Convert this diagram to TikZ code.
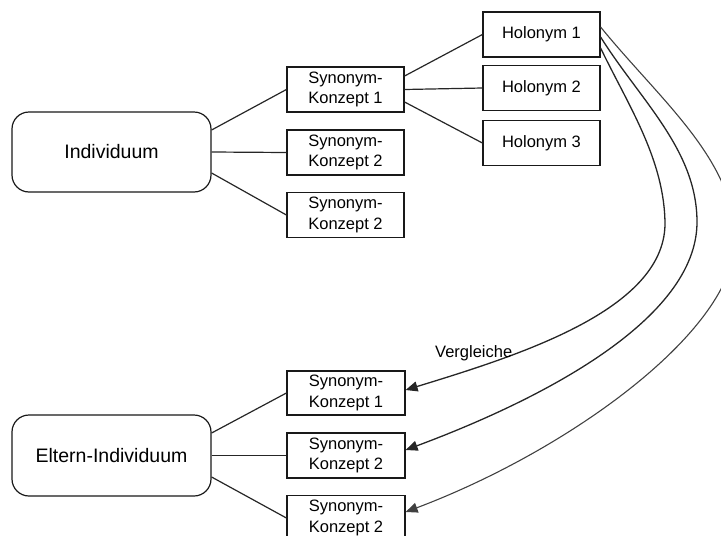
\documentclass[tikz,border=0pt]{standalone}
\usepackage{fontspec}
\setmainfont{Liberation Sans}
\usetikzlibrary{arrows.meta}
\begin{document}
\begin{tikzpicture}[x=1pt,y=-1pt,
  conceptbox/.style={draw=black!90, line width=1.2pt, fill=white,
    minimum width=117pt, minimum height=45pt, inner sep=0pt, align=center,
    font=\fontsize{16.5}{20.5}\selectfont},
  rootbox/.style={draw=black!90, line width=1.2pt, fill=white, rounded corners=17pt,
    minimum width=199pt, minimum height=80pt, inner sep=0pt,
    font=\fontsize{19.5}{23}\selectfont},
  link/.style={draw=black!85, line width=1.2pt},
  compare/.style={draw=black!85, line width=1.3pt, -{Triangle[length=12pt,width=10pt]}},
  compareouter/.style={draw=black!75, line width=1.1pt, -{Triangle[length=12pt,width=10pt]}}
]
\useasboundingbox (0,0) rectangle (721,536);

% upper tree
\node[rootbox] (ind) at (111.5,152) {Individuum};
\node[conceptbox] (s1) at (345.5,89.5) {Synonym-\\Konzept 1};
\node[conceptbox] (s2) at (345.5,152.5) {Synonym-\\Konzept 2};
\node[conceptbox] (s3) at (345.5,215) {Synonym-\\Konzept 2};
\node[conceptbox] (h1) at (541.5,34.5) {Holonym 1};
\node[conceptbox] (h2) at (541.5,88) {Holonym 2};
\node[conceptbox] (h3) at (541.5,143) {Holonym 3};

\draw[link] ([yshift=22pt]ind.east) -- (s1.west);
\draw[link] (ind.east) -- (s2.west);
\draw[link] ([yshift=-21pt]ind.east) -- (s3.west);
\draw[link] ([yshift=13.5pt]s1.east) -- (h1.west);
\draw[link] (s1.east) -- (h2.west);
\draw[link] ([yshift=-12.5pt]s1.east) -- (h3.west);

% lower tree
\node[rootbox, minimum height=81pt] (elt) at (111.5,455.5) {Eltern-Individuum};
\node[conceptbox, minimum width=118pt, minimum height=44pt] (b1) at (346,393) {Synonym-\\Konzept 1};
\node[conceptbox, minimum width=118pt] (b2) at (346,455.5) {Synonym-\\Konzept 2};
\node[conceptbox, minimum width=118pt] (b3) at (346,518) {Synonym-\\Konzept 2};

\draw[link] ([yshift=22.5pt]elt.east) -- (b1.west);
\draw[link] (elt.east) -- (b2.west);
\draw[link] ([yshift=-21.5pt]elt.east) -- (b3.west);

% comparison arcs from Holonym 1 down to the parent's concepts
\coordinate (turnA) at (665,225);
\coordinate (turnB) at (697,222);
\coordinate (turnC) at (735,240);

\draw[compare] ([yshift=-13.5pt]h1.east) .. controls (628,105) and (665,160) .. (turnA)
  .. controls (663,310) and (520,355) .. ([yshift=3pt]b1.east);
\draw[compare] ([yshift=-2.5pt]h1.east) .. controls (640,100) and (697,150) .. (turnB)
  .. controls (697,320) and (540,400) .. ([yshift=5.5pt]b2.east);
\draw[compareouter] ([yshift=7.5pt]h1.east) .. controls (660,100) and (735,160) .. (turnC)
  .. controls (735,330) and (570,450) .. ([yshift=6pt]b3.east);

\node[anchor=base west, inner sep=0pt, font=\fontsize{16.5}{20}\selectfont] (vgl) at (435,357) {Vergleiche};
\end{tikzpicture}
\end{document}
